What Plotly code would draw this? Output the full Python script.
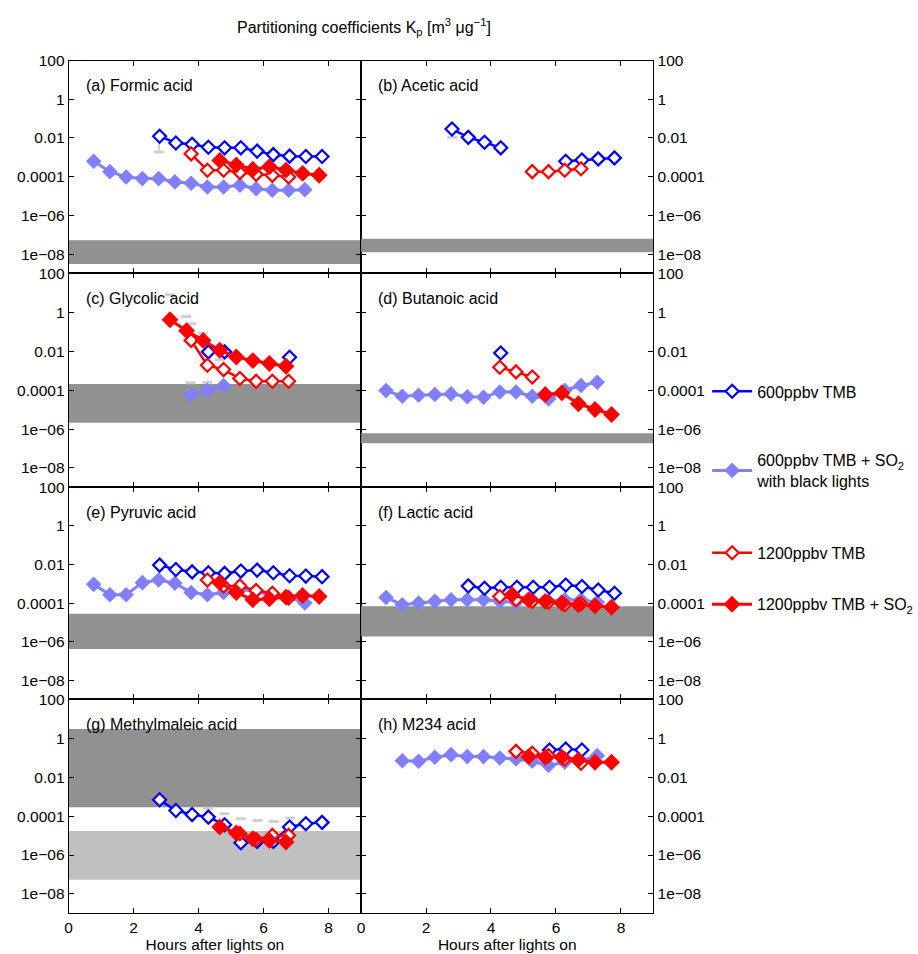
import plotly.graph_objects as go

# ---------------- data ----------------
# sampling times (hours after lights on) for each experiment
t_600 = [2.8, 3.3, 3.8, 4.3, 4.8, 5.3, 5.8, 6.3, 6.8, 7.3, 7.8]
t_600_so2 = [0.77, 1.27, 1.77, 2.27, 2.77, 3.27, 3.77, 4.27, 4.77, 5.27, 5.77, 6.27, 6.77, 7.27]
t_1200 = [3.77, 4.27, 4.77, 5.27, 5.77, 6.27, 6.77]
t_1200_so2 = [3.12, 3.63, 4.14, 4.65, 5.16, 5.67, 6.18, 6.69, 7.2, 7.71]

panel_titles = ["(a) Formic acid", "(b) Acetic acid", "(c) Glycolic acid", "(d) Butanoic acid",
                "(e) Pyruvic acid", "(f) Lactic acid", "(g) Methylmaleic acid", "(h) M234 acid"]

N = None
# log10(Kp) values, one list per panel
logkp_600 = [
    [-1.91, -2.26, -2.33, -2.48, -2.51, -2.51, -2.68, -2.86, -2.94, -2.96, -2.96],
    [-1.54, -1.97, -2.22, -2.51, N, N, N, -3.20, -3.14, -3.08, -3.03],
    [N, N, N, -2.03, -2.03, N, N, N, -2.31, N, N],
    [N, N, N, -2.09, N, N, N, N, N, N, N],
    [-2.03, -2.26, -2.38, -2.43, -2.46, -2.34, -2.29, -2.43, -2.58, -2.60, -2.63],
    [N, -3.11, -3.23, -3.18, -3.18, -3.18, -3.18, -3.06, -3.14, -3.32, -3.49],
    [-3.16, -3.71, -3.92, -4.05, -4.44, -5.37, -5.30, -5.30, -4.56, -4.39, -4.32],
    [N, N, N, N, N, N, -0.60, -0.55, -0.60, N, N],
]
logkp_600_so2 = [
    [-3.20, -3.74, -4.02, -4.10, -4.10, -4.27, -4.34, -4.53, -4.53, -4.44, -4.62, -4.70, -4.70, -4.67],
    [N] * 14,
    [N, N, N, N, N, N, -4.22, -4.00, -3.76, N, N, N, N, N],
    [-4.02, -4.31, -4.26, -4.22, -4.19, -4.34, -4.36, -4.09, -4.09, -4.31, -4.45, -4.00, -3.76, -3.59],
    [-3.03, -3.57, -3.57, -2.94, -2.80, -2.97, -3.45, -3.57, -3.45, -3.28, -3.40, -3.61, -3.69, -4.00],
    [-3.71, -4.09, -4.00, -3.91, -3.83, -3.83, -3.83, -3.91, -3.96, -3.83, -3.91, -3.83, -3.83, -3.96],
    [N] * 14,
    [N, -1.15, -1.18, -0.97, -0.84, -0.94, -0.94, -1.01, -1.06, -1.18, -1.39, -1.23, -1.15, -0.89],
]
logkp_1200 = [
    [-2.82, -3.67, -3.67, -3.79, -3.88, -3.93, -4.02],
    [N, N, N, -3.74, -3.74, -3.67, -3.59],
    [-1.44, -2.72, -2.94, -3.40, -3.54, -3.54, -3.54],
    [N, -2.82, -3.06, -3.32, N, N, N],
    [N, -2.80, -3.11, -3.11, -3.35, -3.49, -3.74],
    [N, -3.66, -3.83, -3.91, -3.96, -4.09, -4.04],
    [N, N, N, -4.90, -5.20, -4.99, -4.99],
    [N, N, -0.67, -0.77, -0.89, -1.06, -1.28],
]
logkp_1200_so2 = [
    [N, N, N, -3.16, -3.40, -3.62, -3.49, -3.66, -3.83, -3.93],
    [N] * 10,
    [-0.38, -0.94, -1.44, -1.95, -2.29, -2.48, -2.63, -2.77, N, N],
    [N, N, N, N, N, -4.22, -4.14, -4.70, -4.99, -5.25],
    [N, N, N, -2.94, -3.45, -3.83, -3.78, -3.69, -3.61, -3.66],
    [N, N, N, -3.57, -3.83, -3.91, -4.00, -4.09, -4.14, -4.22],
    [N, N, N, -4.56, -4.87, -5.16, -5.25, -5.33, N, N],
    [N, N, N, N, -0.94, -0.97, -0.97, -1.11, -1.23, -1.23],
]

# estimated (vapour-pressure based) Kp ranges, log10 [low, high]
band_dark = [[-8.51, -7.28], [-7.90, -7.21], [-5.68, -3.68], [-6.73, -6.22],
             [-6.39, -4.55], [-5.74, -4.17], [-3.54, 0.48], N]
band_light = [N, N, N, N, N, N, [-7.27, -4.77], N]

# light-grey error-bar caps (time, log10 Kp)
cap_t = [[2.78], [2.8], [3.11, 3.62, 3.77, 4.13, 4.64, 3.75, 4.27], [], [], [],
         [4.29, 4.80, 5.30, 5.82, 6.31, 6.82], []]
cap_v = [[-2.72], [-1.97], [0.91, -0.21, -0.58, -1.06, -2.43, -3.62, -3.59], [], [], [],
         [-3.59, -3.88, -4.14, -4.22, -4.27, -4.10], []]

series_names = ["600ppbv TMB", "600ppbv TMB + SO<sub>2</sub><br>with black lights",
                "1200ppbv TMB", "1200ppbv TMB + SO<sub>2</sub>"]

y_tickvals = [100, 1, 0.01, 0.0001, 1e-6, 1e-8]
y_ticktext = ["100", "1", "0.01", "0.0001", "1e\u221206", "1e\u221208"]
x_tickvals = [0, 2, 4, 6, 8]

# ---------------- figure ----------------
W, H = 918, 954
FONT = "Liberation Sans, Arial, Helvetica, sans-serif"
BLUE, LBLUE, RED = "#0000ff", "#8080ff", "#ff0000"
FS_TICK, FS_LABEL = 15.5, 16

col_px = [(65, 359), (359, 653)]
row_px = [(52, 267), (267, 483), (483, 697), (697, 913)]


def pw(v):
    return [None if a is None else 10 ** a for a in v]


fig = go.Figure()
layout_axes = {}
annotations = []

for i in range(8):
    r, c = divmod(i, 2)
    n = i + 1
    xa = "x" if n == 1 else f"x{n}"
    ya = "y" if n == 1 else f"y{n}"
    first = (i == 0)

    # bands
    for band, col in ((band_dark[i], "#919191"), (band_light[i], "#c0c0c0")):
        if band is not None:
            lo, hi = 10 ** band[0], 10 ** band[1]
            fig.add_trace(go.Scatter(x=[0, 9, 9, 0, 0], y=[lo, lo, hi, hi, lo], mode="lines",
                                     fill="toself", fillcolor=col, line=dict(width=0, color=col),
                                     hoverinfo="skip", showlegend=False, xaxis=xa, yaxis=ya))
    # grey error caps
    if cap_t[i]:
        fig.add_trace(go.Scatter(x=cap_t[i], y=pw(cap_v[i]), mode="markers",
                                 marker=dict(symbol="line-ew", size=7, line=dict(width=3, color="#cfcfcf")),
                                 showlegend=False, hoverinfo="skip", xaxis=xa, yaxis=ya))
    if i == 0:
        fig.add_trace(go.Scatter(x=[2.78, 2.78], y=[10 ** -1.9, 10 ** -2.72], mode="lines",
                                 line=dict(width=2, color="#cfcfcf"), showlegend=False,
                                 hoverinfo="skip", xaxis=xa, yaxis=ya))

    # light blue, filled
    fig.add_trace(go.Scatter(x=t_600_so2, y=pw(logkp_600_so2[i]), mode="lines+markers",
                             name=series_names[1], legend="legend2", showlegend=first,
                             line=dict(color=LBLUE, width=3),
                             marker=dict(symbol="diamond", size=12, color=LBLUE, line=dict(width=0)),
                             xaxis=xa, yaxis=ya))
    # blue open
    fig.add_trace(go.Scatter(x=t_600, y=pw(logkp_600[i]), mode="lines+markers",
                             name=series_names[0], legend="legend", showlegend=first,
                             line=dict(color=BLUE, width=2.5),
                             marker=dict(symbol="diamond", size=10, color="white", line=dict(width=2.2, color=BLUE)),
                             xaxis=xa, yaxis=ya))
    # red open
    fig.add_trace(go.Scatter(x=t_1200, y=pw(logkp_1200[i]), mode="lines+markers",
                             name=series_names[2], legend="legend3", showlegend=first,
                             line=dict(color=RED, width=2.5),
                             marker=dict(symbol="diamond", size=10, color="white", line=dict(width=2.2, color=RED)),
                             xaxis=xa, yaxis=ya))
    # red filled
    fig.add_trace(go.Scatter(x=t_1200_so2, y=pw(logkp_1200_so2[i]), mode="lines+markers",
                             name=series_names[3], legend="legend4", showlegend=first,
                             line=dict(color=RED, width=3),
                             marker=dict(symbol="diamond", size=13, color=RED, line=dict(width=0)),
                             xaxis=xa, yaxis=ya))

    x0, x1 = col_px[c]
    y0, y1 = row_px[r]
    xkey = "xaxis" if n == 1 else f"xaxis{n}"
    ykey = "yaxis" if n == 1 else f"yaxis{n}"
    bottom = (r == 3)
    layout_axes[xkey] = dict(domain=[x0 / W, x1 / W], anchor=ya, range=[0, 9],
                             tickvals=x_tickvals, ticks="inside", ticklen=5, tickcolor="black",
                             showline=True, linecolor="black", linewidth=1, mirror="ticks",
                             showgrid=False, zeroline=False, showticklabels=bottom,
                             tickfont=dict(size=FS_TICK, color="black", family=FONT),
                             title=dict(text="Hours after lights on" if bottom else "",
                                        font=dict(size=FS_TICK, color="black", family=FONT), standoff=2))
    layout_axes[ykey] = dict(domain=[1 - y1 / H, 1 - y0 / H], anchor=xa, type="log", range=[-9, 2],
                             tickvals=y_tickvals, ticktext=y_ticktext, ticks="inside", ticklen=5,
                             tickcolor="black", showline=True, linecolor="black", linewidth=1,
                             mirror="ticks", showgrid=False, zeroline=False,
                             side="left" if c == 0 else "right",
                             tickfont=dict(size=FS_TICK, color="black", family=FONT))
    annotations.append(dict(text=panel_titles[i], xref=f"{xa} domain", yref=f"{ya} domain",
                            x=0.052, y=1 - 25 / 215, xanchor="left", yanchor="middle",
                            showarrow=False, font=dict(size=FS_LABEL, color="black", family=FONT)))

annotations.append(dict(text="Partitioning coefficients K<sub>p</sub> [m<sup>3</sup> \u03bcg<sup>\u22121</sup>]",
                        xref="paper", yref="paper", x=362 / W, y=1 - 18 / H, xanchor="center",
                        yanchor="middle", showarrow=False, font=dict(size=FS_LABEL, color="black", family=FONT)))

leg_y = [386, 466, 549, 601]
leg_common = dict(x=707 / W, xanchor="left", yanchor="middle", bgcolor="rgba(0,0,0,0)",
                  font=dict(size=FS_LABEL, color="black", family=FONT), itemwidth=40)

fig.update_layout(
    width=W, height=H, margin=dict(l=0, r=0, t=0, b=0),
    paper_bgcolor="white", plot_bgcolor="white",
    font=dict(family=FONT, size=FS_LABEL, color="black"),
    annotations=annotations,
    legend=dict(y=1 - leg_y[0] / H, **leg_common),
    legend2=dict(y=1 - leg_y[1] / H, **leg_common),
    legend3=dict(y=1 - leg_y[2] / H, **leg_common),
    legend4=dict(y=1 - leg_y[3] / H, **leg_common),
    **layout_axes,
)

fig.write_html("out.html", post_script="document.body.style.margin='0px';document.body.style.overflow='hidden';")
